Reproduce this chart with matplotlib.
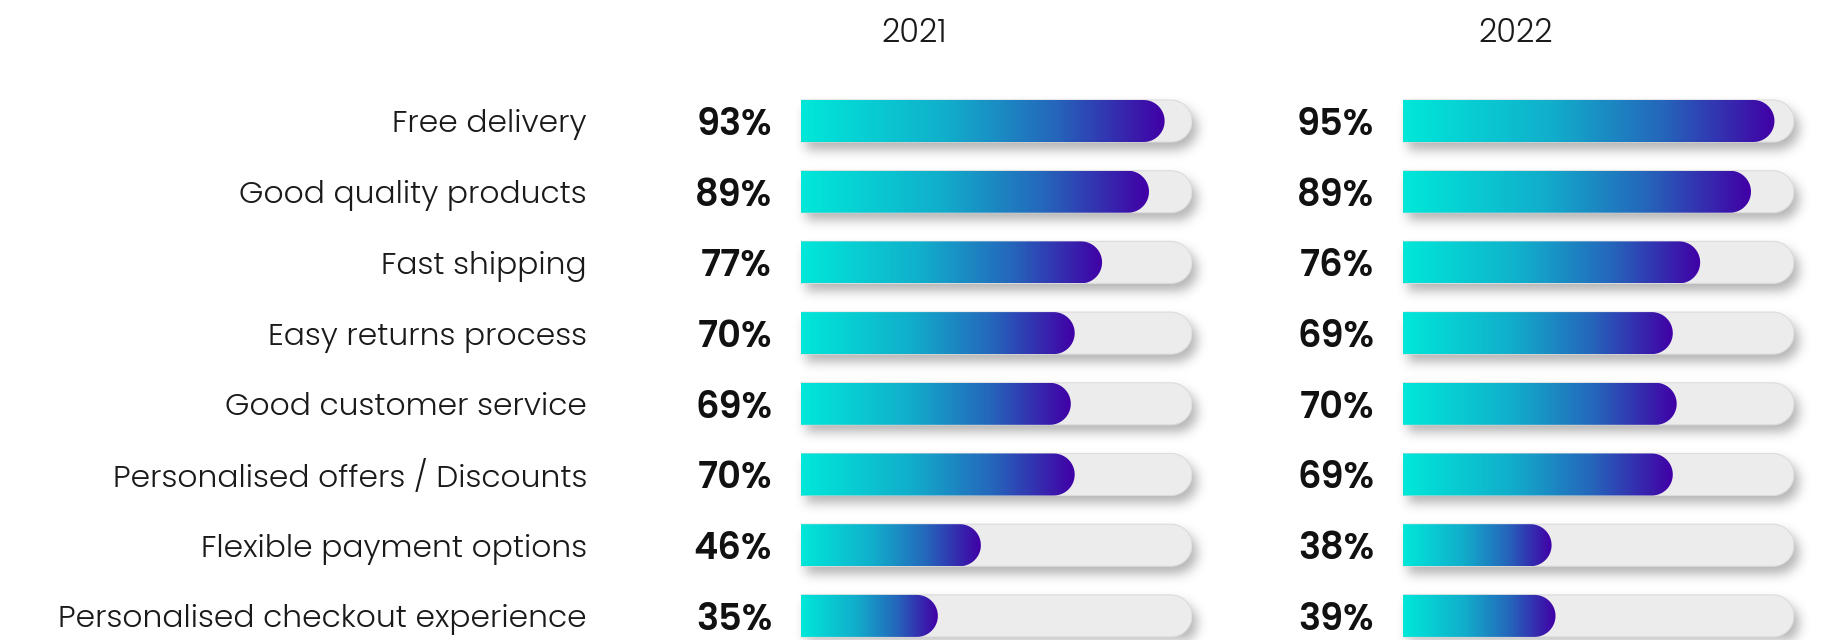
import numpy as np
import matplotlib
matplotlib.use("Agg")
import matplotlib.pyplot as plt
from matplotlib.patches import PathPatch
from matplotlib.path import Path
from matplotlib.colors import LinearSegmentedColormap
from matplotlib import transforms as mtrans

# ---- data -------------------------------------------------------------
categories = [
    "Free delivery",
    "Good quality products",
    "Fast shipping",
    "Easy returns process",
    "Good customer service",
    "Personalised offers / Discounts",
    "Flexible payment options",
    "Personalised checkout experience",
]
years = ["2021", "2022"]
values_2021 = [93, 89, 77, 70, 69, 70, 46, 35]
values_2022 = [95, 89, 76, 69, 70, 69, 38, 39]
series = [values_2021, values_2022]

# ---- layout (pixels) ---------------------------------------------------
W, H = 1823, 640
DPI = 100
panel_left = [801, 1403]
panel_width = 391
row_top = 121.0      # centre of first row
row_step = 70.7      # distance between rows
bar_h = 42.0
label_right = 587
pct_gap = 29
year_dx = 113
year_y = 30

FONT = ["Poppins", "DejaVu Sans"]
TEXT_COLOR = "#1a1a1a"
TRACK_COLOR = "#ECECEC"

grad_cmap = LinearSegmentedColormap.from_list(
    "bar_grad",
    [(0.0, "#00E8D9"), (0.40, "#11AECB"), (0.70, "#2566BB"), (1.0, "#4100A6")],
)

fig = plt.figure(figsize=(W / DPI, H / DPI), dpi=DPI)
fig.patch.set_facecolor("white")

# ---- soft drop shadow under the tracks (figure pixel space) ------------
bg = fig.add_axes([0, 0, 1, 1], zorder=0)
bg.axis("off")

yy, xx = np.mgrid[0:H, 0:W].astype(float)
mask = np.zeros((H, W))
r = bar_h / 2
sdx, sdy = 5.0, 7.0
n_rows = len(categories)
for x0 in panel_left:
    x1 = x0 + panel_width
    for i in range(n_rows):
        yc = row_top + row_step * i + sdy
        xs0, xs1 = x0 + sdx, x1 + sdx
        body = (xx >= xs0) & (xx <= xs1 - r) & (np.abs(yy - yc) <= r)
        cap = (xx > xs1 - r) & ((xx - (xs1 - r)) ** 2 + (yy - yc) ** 2 <= r ** 2)
        mask[body | cap] = 1.0

sigma = 5.5
k = np.arange(-18, 19)
kern = np.exp(-0.5 * (k / sigma) ** 2)
kern /= kern.sum()
blur = np.apply_along_axis(lambda v: np.convolve(v, kern, mode="same"), 1, mask)
blur = np.apply_along_axis(lambda v: np.convolve(v, kern, mode="same"), 0, blur)
shadow = np.zeros((H, W, 4))
shadow[..., :3] = 0.30
shadow[..., 3] = blur * 0.42
bg.imshow(shadow, extent=(0, W, H, 0), interpolation="bilinear", aspect="auto")
bg.set_xlim(0, W)
bg.set_ylim(H, 0)

# ---- bar panels ---------------------------------------------------------
ylim_top = -row_top / row_step
ylim_bottom = (H - row_top) / row_step


def rounded_bar(value, yc, rx, ry, n=40):
    """Square left end, semicircular right end, in data coordinates."""
    t = np.linspace(-np.pi / 2, np.pi / 2, n)
    xc = value - rx
    arc = np.column_stack([xc + rx * np.cos(t), yc + ry * np.sin(t)])
    verts = np.vstack([[0, yc - ry], arc, [0, yc + ry], [0, yc - ry]])
    codes = [Path.MOVETO] + [Path.LINETO] * (len(verts) - 2) + [Path.CLOSEPOLY]
    return Path(verts, codes)


grad = np.linspace(0, 1, 256).reshape(1, -1)

axes = []
for p, (x0, vals, year) in enumerate(zip(panel_left, series, years)):
    ax = fig.add_axes([x0 / W, 0, panel_width / W, 1], zorder=1)
    ax.set_facecolor("none")
    ax.axis("off")
    ax.set_xlim(0, 100)
    ax.set_ylim(ylim_bottom, ylim_top)
    px_per_x = panel_width / 100.0
    rx = r / px_per_x
    ry = r / row_step

    for i, v in enumerate(vals):
        track = PathPatch(rounded_bar(100, i, rx, ry), facecolor=TRACK_COLOR,
                          edgecolor="#DCDCDC", lw=0.8, zorder=1)
        ax.add_patch(track)
        bar = PathPatch(rounded_bar(v, i, rx, ry), facecolor="none",
                        edgecolor="none", zorder=2)
        ax.add_patch(bar)
        im = ax.imshow(grad, cmap=grad_cmap, extent=(0, v, i + ry, i - ry),
                       aspect="auto", interpolation="bicubic", zorder=2)
        im.set_clip_path(bar)

        pct_tr = mtrans.offset_copy(ax.transData, fig=fig, x=-pct_gap, y=0, units="dots")
        ax.text(0, i, f"{v}%", transform=pct_tr, ha="right", va="center_baseline",
                fontsize=26.5, fontweight=600, family=FONT, color="#111111")

    year_tr = mtrans.blended_transform_factory(ax.transAxes, fig.transFigure)
    ax.text(year_dx / panel_width, 1 - year_y / H, year, transform=year_tr,
            ha="center", va="center_baseline", fontsize=23, fontweight=300,
            family=FONT, color=TEXT_COLOR)
    ax.set_xlim(0, 100)
    ax.set_ylim(ylim_bottom, ylim_top)
    axes.append(ax)

# ---- category labels ---------------------------------------------------
cat_tr = mtrans.blended_transform_factory(fig.transFigure, axes[0].transData)
for i, name in enumerate(categories):
    fig.text(label_right / W, i, name, transform=cat_tr, ha="right",
             va="center_baseline", fontsize=22.5, fontweight=300,
             family=FONT, color=TEXT_COLOR)

fig.savefig("out.png", dpi=DPI, facecolor="white")
